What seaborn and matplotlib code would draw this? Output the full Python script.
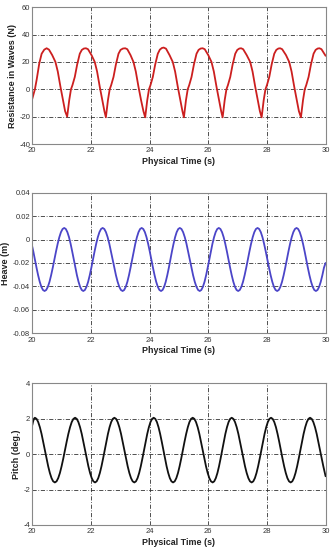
import matplotlib
matplotlib.use("Agg")
import matplotlib.pyplot as plt
import seaborn as sns
import pandas as pd

# ---------------- data ----------------
res_t = [20.00, 20.09, 20.15, 20.24, 20.32, 20.41, 20.49, 20.57, 20.68, 20.79, 20.87, 20.96, 21.05, 21.12,
         21.19, 21.26, 21.32, 21.37, 21.45, 21.53, 21.62, 21.69, 21.76, 21.83, 21.90, 22.02, 22.13, 22.21, 22.30, 22.39, 22.46,
         22.51, 22.58, 22.64, 22.69, 22.77, 22.85, 22.94, 23.01, 23.09, 23.17, 23.24, 23.35, 23.45, 23.53, 23.62, 23.71, 23.79,
         23.85, 23.92, 23.98, 24.03, 24.11, 24.19, 24.28, 24.35, 24.42, 24.48, 24.56, 24.68, 24.79, 24.87, 24.96, 25.05, 25.12,
         25.17, 25.24, 25.30, 25.35, 25.43, 25.51, 25.60, 25.67, 25.74, 25.81, 25.88, 26.00, 26.11, 26.19, 26.28, 26.37, 26.44,
         26.49, 26.56, 26.62, 26.67, 26.75, 26.83, 26.92, 26.99, 27.06, 27.12, 27.19, 27.31, 27.43, 27.51, 27.60, 27.69, 27.76,
         27.82, 27.89, 27.95, 28.00, 28.08, 28.16, 28.25, 28.32, 28.39, 28.45, 28.52, 28.65, 28.76, 28.84, 28.93, 29.02, 29.09,
         29.16, 29.23, 29.29, 29.34, 29.42, 29.50, 29.59, 29.66, 29.73, 29.79, 29.86, 30.00]
res_v = [-7, 0, 7, 19, 26, 29, 30, 29, 25, 20, 13, 2, -8, -16,
         -20, -8, 0, 3, 9, 18, 26, 28.8, 29.8, 30, 29.3, 25, 20, 13, 2, -8, -16,
         -20.5, -8, 0, 3, 9, 18, 26, 28.8, 29.8, 30, 29.3, 25, 20, 13, 2, -8, -16,
         -20.5, -8, 0, 3, 9, 18, 26, 29, 30.2, 30.5, 29.7, 25, 20, 13, 2, -8, -16,
         -20.5, -8, 0, 3, 9, 18, 26, 28.8, 29.8, 30, 29.3, 25, 20, 13, 2, -8, -16,
         -20.5, -8, 0, 3, 9, 18, 26, 28.8, 29.8, 30, 29.3, 25, 20, 13, 2, -8, -16,
         -20.5, -8, 0, 3, 9, 18, 26, 28.8, 29.8, 30, 29.3, 25, 20, 13, 2, -8, -16,
         -20.5, -8, 0, 3, 9, 18, 26, 28.8, 29.8, 30, 29.3, 24.5]

heave_t = [20.000, 20.035, 20.090, 20.145, 20.200, 20.255, 20.310, 20.365, 20.420,
           20.476, 20.532, 20.588, 20.643, 20.699, 20.755, 20.811, 20.867, 20.923, 20.978, 21.034, 21.090,
           21.144, 21.198, 21.253, 21.307, 21.361, 21.415, 21.469, 21.523, 21.578, 21.632, 21.686, 21.740,
           21.795, 21.850, 21.905, 21.960, 22.015, 22.070, 22.125, 22.180, 22.235, 22.290, 22.345, 22.400,
           22.457, 22.513, 22.570, 22.627, 22.683, 22.740, 22.797, 22.853, 22.910, 22.967, 23.023, 23.080,
           23.134, 23.188, 23.243, 23.297, 23.351, 23.405, 23.459, 23.513, 23.568, 23.622, 23.676, 23.730,
           23.785, 23.840, 23.895, 23.950, 24.005, 24.060, 24.115, 24.170, 24.225, 24.280, 24.335, 24.390,
           24.443, 24.497, 24.550, 24.603, 24.657, 24.710, 24.763, 24.817, 24.870, 24.923, 24.977, 25.030,
           25.087, 25.143, 25.200, 25.257, 25.313, 25.370, 25.427, 25.483, 25.540, 25.597, 25.653, 25.710,
           25.764, 25.818, 25.873, 25.927, 25.981, 26.035, 26.089, 26.143, 26.198, 26.252, 26.306, 26.360,
           26.415, 26.470, 26.525, 26.580, 26.635, 26.690, 26.745, 26.800, 26.855, 26.910, 26.965, 27.020,
           27.075, 27.130, 27.185, 27.240, 27.295, 27.350, 27.405, 27.460, 27.515, 27.570, 27.625, 27.680,
           27.736, 27.792, 27.848, 27.903, 27.959, 28.015, 28.071, 28.127, 28.183, 28.238, 28.294, 28.350,
           28.405, 28.460, 28.515, 28.570, 28.625, 28.680, 28.735, 28.790, 28.845, 28.900, 28.955, 29.010,
           29.065, 29.120, 29.175, 29.230, 29.285, 29.340, 29.395, 29.450, 29.505, 29.560, 29.615, 29.670,
           29.725, 29.780, 29.835, 29.890, 29.945, 30.000]
heave_v = [-0.006, -0.0100, -0.017, -0.0240, -0.0305, -0.0361, -0.0404, -0.0431, -0.044,
           -0.0431, -0.0404, -0.0361, -0.0305, -0.0240, -0.017, -0.0100, -0.0035, 0.0021, 0.0064, 0.0091, 0.010,
           0.0091, 0.0064, 0.0021, -0.0035, -0.0100, -0.017, -0.0240, -0.0305, -0.0361, -0.0404, -0.0431, -0.044,
           -0.0431, -0.0404, -0.0361, -0.0305, -0.0240, -0.017, -0.0100, -0.0035, 0.0021, 0.0064, 0.0091, 0.010,
           0.0091, 0.0064, 0.0021, -0.0035, -0.0100, -0.017, -0.0240, -0.0305, -0.0361, -0.0404, -0.0431, -0.044,
           -0.0431, -0.0404, -0.0361, -0.0305, -0.0240, -0.017, -0.0100, -0.0035, 0.0021, 0.0064, 0.0091, 0.010,
           0.0091, 0.0064, 0.0021, -0.0035, -0.0100, -0.017, -0.0240, -0.0305, -0.0361, -0.0404, -0.0431, -0.044,
           -0.0431, -0.0404, -0.0361, -0.0305, -0.0240, -0.017, -0.0100, -0.0035, 0.0021, 0.0064, 0.0091, 0.010,
           0.0091, 0.0064, 0.0021, -0.0035, -0.0100, -0.017, -0.0240, -0.0305, -0.0361, -0.0404, -0.0431, -0.044,
           -0.0431, -0.0404, -0.0361, -0.0305, -0.0240, -0.017, -0.0100, -0.0035, 0.0021, 0.0064, 0.0091, 0.010,
           0.0091, 0.0064, 0.0021, -0.0035, -0.0100, -0.017, -0.0240, -0.0305, -0.0361, -0.0404, -0.0431, -0.044,
           -0.0431, -0.0404, -0.0361, -0.0305, -0.0240, -0.017, -0.0100, -0.0035, 0.0021, 0.0064, 0.0091, 0.010,
           0.0091, 0.0064, 0.0021, -0.0035, -0.0100, -0.017, -0.0240, -0.0305, -0.0361, -0.0404, -0.0431, -0.044,
           -0.0431, -0.0404, -0.0361, -0.0305, -0.0240, -0.017, -0.0100, -0.0035, 0.0021, 0.0064, 0.0091, 0.010,
           0.0091, 0.0064, 0.0021, -0.0035, -0.0100, -0.017, -0.0240, -0.0305, -0.0361, -0.0404, -0.0431, -0.044,
           -0.0431, -0.0404, -0.0361, -0.0305, -0.0240, -0.020]

pitch_t = [20.000, 20.030, 20.060, 20.090,
           20.147, 20.203, 20.260, 20.317, 20.373, 20.430, 20.487, 20.543, 20.600, 20.657, 20.713, 20.770,
           20.828, 20.885, 20.943, 21.000, 21.058, 21.115, 21.173, 21.230, 21.288, 21.345, 21.403, 21.460,
           21.517, 21.573, 21.630, 21.687, 21.743, 21.800, 21.857, 21.913, 21.970, 22.027, 22.083, 22.140,
           22.195, 22.250, 22.305, 22.360, 22.415, 22.470, 22.525, 22.580, 22.635, 22.690, 22.745, 22.800,
           22.857, 22.913, 22.970, 23.027, 23.083, 23.140, 23.197, 23.253, 23.310, 23.367, 23.423, 23.480,
           23.535, 23.590, 23.645, 23.700, 23.755, 23.810, 23.865, 23.920, 23.975, 24.030, 24.085, 24.140,
           24.195, 24.250, 24.305, 24.360, 24.415, 24.470, 24.525, 24.580, 24.635, 24.690, 24.745, 24.800,
           24.856, 24.912, 24.968, 25.023, 25.079, 25.135, 25.191, 25.247, 25.303, 25.358, 25.414, 25.470,
           25.527, 25.583, 25.640, 25.697, 25.753, 25.810, 25.867, 25.923, 25.980, 26.037, 26.093, 26.150,
           26.204, 26.258, 26.313, 26.367, 26.421, 26.475, 26.529, 26.583, 26.638, 26.692, 26.746, 26.800,
           26.857, 26.913, 26.970, 27.027, 27.083, 27.140, 27.197, 27.253, 27.310, 27.367, 27.423, 27.480,
           27.535, 27.590, 27.645, 27.700, 27.755, 27.810, 27.865, 27.920, 27.975, 28.030, 28.085, 28.140,
           28.196, 28.252, 28.308, 28.363, 28.419, 28.475, 28.531, 28.587, 28.643, 28.698, 28.754, 28.810,
           28.865, 28.920, 28.975, 29.030, 29.085, 29.140, 29.195, 29.250, 29.305, 29.360, 29.415, 29.470,
           29.527, 29.583, 29.640, 29.697, 29.753, 29.810, 29.867, 29.923, 30.000]
pitch_v = [1.63, 1.85, 2.00, 2.05,
           1.988, 1.805, 1.515, 1.138, 0.698, 0.225, -0.248, -0.688, -1.065, -1.355, -1.538, -1.6,
           -1.538, -1.355, -1.065, -0.688, -0.248, 0.225, 0.698, 1.138, 1.515, 1.805, 1.988, 2.05,
           1.988, 1.805, 1.515, 1.138, 0.698, 0.225, -0.248, -0.688, -1.065, -1.355, -1.538, -1.6,
           -1.538, -1.355, -1.065, -0.688, -0.248, 0.225, 0.698, 1.138, 1.515, 1.805, 1.988, 2.05,
           1.988, 1.805, 1.515, 1.138, 0.698, 0.225, -0.248, -0.688, -1.065, -1.355, -1.538, -1.6,
           -1.538, -1.355, -1.065, -0.688, -0.248, 0.225, 0.698, 1.138, 1.515, 1.805, 1.988, 2.05,
           1.988, 1.805, 1.515, 1.138, 0.698, 0.225, -0.248, -0.688, -1.065, -1.355, -1.538, -1.6,
           -1.538, -1.355, -1.065, -0.688, -0.248, 0.225, 0.698, 1.138, 1.515, 1.805, 1.988, 2.05,
           1.988, 1.805, 1.515, 1.138, 0.698, 0.225, -0.248, -0.688, -1.065, -1.355, -1.538, -1.6,
           -1.538, -1.355, -1.065, -0.688, -0.248, 0.225, 0.698, 1.138, 1.515, 1.805, 1.988, 2.05,
           1.988, 1.805, 1.515, 1.138, 0.698, 0.225, -0.248, -0.688, -1.065, -1.355, -1.538, -1.6,
           -1.538, -1.355, -1.065, -0.688, -0.248, 0.225, 0.698, 1.138, 1.515, 1.805, 1.988, 2.05,
           1.988, 1.805, 1.515, 1.138, 0.698, 0.225, -0.248, -0.688, -1.065, -1.355, -1.538, -1.6,
           -1.538, -1.355, -1.065, -0.688, -0.248, 0.225, 0.698, 1.138, 1.515, 1.805, 1.988, 2.05,
           1.988, 1.805, 1.515, 1.138, 0.698, 0.225, -0.248, -0.688, -1.25]

x_ticks = [20, 22, 24, 26, 28, 30]
x_ticklabels = ["20", "22", "24", "26", "28", "30"]
res_ticks = [-40, -20, 0, 20, 40, 60]
res_ticklabels = ["-40", "-20", "0", "20", "40", "60"]
heave_ticks = [-0.08, -0.06, -0.04, -0.02, 0, 0.02, 0.04]
heave_ticklabels = ["-0.08", "-0.06", "-0.04", "-0.02", "0", "0.02", "0.04"]
pitch_ticks = [-4, -2, 0, 2, 4]
pitch_ticklabels = ["-4", "-2", "0", "2", "4"]

x_label = "Physical Time (s)"
y_labels = ["Resistance in Waves (N)", "Heave (m)", "Pitch (deg.)"]

# ---------------- plot ----------------
sns.set_style("white")
plt.rcParams["font.family"] = ["Liberation Sans", "DejaVu Sans"]

fig = plt.figure(figsize=(3.36, 5.56), dpi=100)
rects = [
    [0.096, 0.741, 0.873, 0.246],
    [0.096, 0.401, 0.873, 0.252],
    [0.096, 0.0558, 0.873, 0.255],
]
series = [
    (res_t, res_v, "#cc1f1f", res_ticks, res_ticklabels),
    (heave_t, heave_v, "#4b45c8", heave_ticks, heave_ticklabels),
    (pitch_t, pitch_v, "#111111", pitch_ticks, pitch_ticklabels),
]

for rect, (t, v, col, yt, ytl), ylab in zip(rects, series, y_labels):
    ax = fig.add_axes(rect)
    df = pd.DataFrame({"t": t, "v": v})
    sns.lineplot(data=df, x="t", y="v", ax=ax, color=col, linewidth=1.3, estimator=None, sort=False)
    ax.set_xlim(20, 30)
    ax.set_ylim(yt[0], yt[-1])
    ax.set_xticks(x_ticks)
    ax.set_xticklabels(x_ticklabels)
    ax.set_yticks(yt)
    ax.set_yticklabels(ytl)
    ax.grid(True, color="#333333", linestyle=(0, (5, 2, 1, 2)), linewidth=0.6)
    ax.set_axisbelow(True)
    for s in ax.spines.values():
        s.set_color("#888888")
        s.set_linewidth(0.8)
    ax.tick_params(axis="both", labelsize=5.5, length=0, colors="#333333")
    ax.tick_params(axis="x", pad=2.5)
    ax.tick_params(axis="y", pad=1.5)
    ax.set_xlabel(x_label, fontsize=6.4, fontweight="bold", labelpad=1.5, color="#222222")
    ax.set_ylabel(ylab, fontsize=6.5, fontweight="bold", labelpad=2, color="#222222")

fig.savefig("out.png", dpi=100)
